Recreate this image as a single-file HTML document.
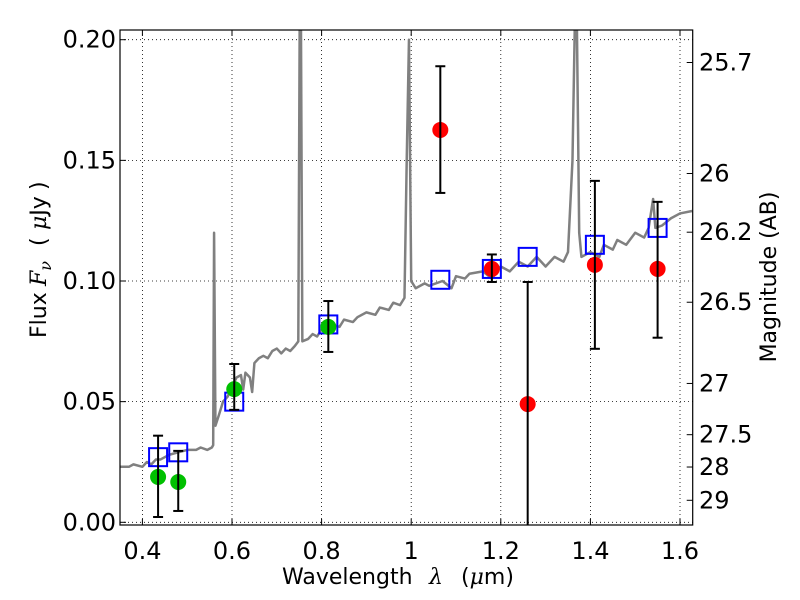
<!DOCTYPE html>
<html><head><meta charset="utf-8"><style>
html,body{margin:0;padding:0;background:#fff;overflow:hidden;width:800px;height:600px}
svg{display:block;font-family:"DejaVu Sans","Liberation Sans",sans-serif}
.tt{font-size:22px}
</style></head><body>
<svg id="chart" width="800" height="600" viewBox="0 0 800 600">
<g>
<text class="tt" x="282" y="584">Wavelength</text>
<text class="tt" x="429" y="584" font-family="DejaVu Serif, serif" font-style="italic">λ</text>
<text class="tt" x="461" y="584">(<tspan font-family="DejaVu Serif, serif" font-style="italic">μ</tspan>m)</text>
</g>
<g transform="translate(46,0) rotate(-90)">
<text class="tt" x="-338" y="0">Flux</text>
<text class="tt" x="-286" y="0" font-family="DejaVu Serif, serif" font-style="italic">F<tspan style="font-size:16px" dy="5">ν</tspan></text>
<text class="tt" x="-246" y="0">(</text>
<text class="tt" x="-230" y="0"><tspan font-family="DejaVu Serif, serif" font-style="italic">μ</tspan>Jy</text>
<text class="tt" x="-190" y="0">)</text>
</g>
<text transform="translate(776,277) rotate(-90)" style="font-size:22px" text-anchor="middle">Magnitude (AB)</text>
</svg>
<script>
const specLam=[0.35,0.37,0.38,0.40,0.41,0.42,0.43,0.44,0.46,0.48,0.50,0.52,0.53,0.545,0.555,0.558,0.56,0.563,0.57,0.58,0.59,0.60,0.61,0.62,0.625,0.63,0.64,0.645,0.65,0.66,0.67,0.68,0.69,0.70,0.71,0.72,0.73,0.74,0.748,0.751,0.754,0.757,0.77,0.78,0.79,0.80,0.82,0.84,0.85,0.87,0.88,0.90,0.92,0.93,0.95,0.96,0.975,0.985,0.99,0.995,1.0,1.01,1.03,1.04,1.07,1.09,1.10,1.12,1.13,1.16,1.18,1.2,1.22,1.24,1.26,1.28,1.30,1.32,1.34,1.35,1.36,1.365,1.37,1.375,1.38,1.40,1.42,1.43,1.45,1.46,1.48,1.50,1.52,1.53,1.54,1.545,1.56,1.58,1.60,1.627];
const specFlux=[0.023,0.023,0.024,0.023,0.025,0.024,0.026,0.026,0.028,0.029,0.030,0.030,0.031,0.030,0.031,0.032,0.12,0.04,0.044,0.050,0.052,0.056,0.060,0.061,0.055,0.062,0.060,0.054,0.066,0.068,0.069,0.068,0.071,0.072,0.070,0.072,0.071,0.073,0.075,0.21,0.21,0.075,0.076,0.078,0.077,0.080,0.082,0.081,0.084,0.083,0.085,0.087,0.086,0.089,0.088,0.091,0.090,0.093,0.15,0.20,0.10,0.097,0.099,0.098,0.100,0.097,0.102,0.101,0.103,0.104,0.101,0.106,0.104,0.108,0.106,0.110,0.106,0.110,0.108,0.112,0.15,0.21,0.21,0.12,0.110,0.112,0.110,0.115,0.113,0.117,0.115,0.120,0.118,0.122,0.134,0.122,0.123,0.126,0.128,0.129];
const modelLam=[0.435,0.48,0.605,0.815,1.065,1.18,1.26,1.41,1.55];
const modelFlux=[0.027,0.029,0.050,0.082,0.1005,0.105,0.110,0.115,0.122];
const greenLam=[0.435,0.48,0.605,0.815];
const greenFlux=[0.0188,0.0167,0.0552,0.081];
const greenHi=[0.0359,0.0296,0.0656,0.0917];
const greenLo=[0.0022,0.0047,0.0466,0.0706];
const redLam=[1.065,1.18,1.26,1.41,1.55];
const redFlux=[0.1626,0.105,0.049,0.1067,0.105];
const redHi=[0.189,0.111,0.0996,0.1415,0.1328];
const redLo=[0.1365,0.0996,-0.05,0.0719,0.0765];
const xTicks=[0.4,0.6,0.8,1.0,1.2,1.4,1.6];
const xTickLabels=["0.4","0.6","0.8","1","1.2","1.4","1.6"];
const yTicks=[0,0.05,0.10,0.15,0.20];
const yTickLabels=["0.00","0.05","0.10","0.15","0.20"];
const magTicks=[25.7,26,26.2,26.5,27,27.5,28,29];
const magTickLabels=["25.7","26","26.2","26.5","27","27.5","28","29"];

const L=120,R=692.7,T=30,B=525;
const X=v=>L+(v-0.35)*448;
const Y=v=>522.3-v*2413;
const NS="http://www.w3.org/2000/svg";
const svg=document.getElementById('chart');
function mk(tag,at,parent){const e=document.createElementNS(NS,tag);for(const k in at)e.setAttribute(k,at[k]);(parent||svg).appendChild(e);return e;}
const clampY=y=>Math.max(T,Math.min(B,y));

const defs=mk('defs',{});
const cp=mk('clipPath',{id:'clip'},defs);
mk('rect',{x:L,y:T,width:R-L,height:B-T},cp);

xTicks.forEach(v=>{const g=mk('line',{x1:X(v),x2:X(v),y1:T,y2:B,stroke:'#000','stroke-width':0.8,'stroke-dasharray':'1,3'});

});
yTicks.forEach(v=>{const g=mk('line',{x1:L,x2:R,y1:Y(v),y2:Y(v),stroke:'#000','stroke-width':0.8,'stroke-dasharray':'1,3'});

});

const sp=mk('polyline',{points:specLam.map((l,i)=>X(l)+','+clampY(Y(specFlux[i]))).join(' '),fill:'none',stroke:'#808080','stroke-width':2.5,'clip-path':'url(#clip)','stroke-linejoin':'round'});



modelLam.forEach((l,i)=>{const r=mk('rect',{x:X(l)-9,y:Y(modelFlux[i])-9,width:18,height:18,fill:'none',stroke:'#0000ff','stroke-width':2,'clip-path':'url(#clip)'});

});

function errbar(x,hi,lo,name){
  const g=mk('g',{});
  
  
  const yh=Y(hi),yl=Y(lo);
  mk('line',{x1:x,x2:x,y1:clampY(yh),y2:clampY(yl),stroke:'#000','stroke-width':2},g);
  if(yh>=T&&yh<=B) mk('line',{x1:x-5,x2:x+5,y1:yh,y2:yh,stroke:'#000','stroke-width':2},g);
  if(yl>=T&&yl<=B) mk('line',{x1:x-5,x2:x+5,y1:yl,y2:yl,stroke:'#000','stroke-width':2},g);
}
greenLam.forEach((l,i)=>{
  const c=mk('circle',{cx:X(l),cy:Y(greenFlux[i]),r:8,fill:'#00c000'});
  
  
  errbar(X(l),greenHi[i],greenLo[i],'green-error-bar');
});
redLam.forEach((l,i)=>{
  const c=mk('circle',{cx:X(l),cy:Y(redFlux[i]),r:8,fill:'#ff0000'});
  
  
  errbar(X(l),redHi[i],redLo[i],'red-error-bar');
});

const fr=mk('rect',{x:L,y:T,width:R-L,height:B-T,fill:'none',stroke:'#000','stroke-width':1.2});



xTicks.forEach((v,i)=>{
  mk('line',{x1:X(v),x2:X(v),y1:B,y2:B-6,stroke:'#000'});
  mk('line',{x1:X(v),x2:X(v),y1:T,y2:T+6,stroke:'#000'});
  const t=mk('text',{x:X(v),y:559,'font-size':24,'text-anchor':'middle'});
  t.textContent=xTickLabels[i];
  
  
});
yTicks.forEach((v,i)=>{
  mk('line',{x1:L,x2:L+6,y1:Y(v),y2:Y(v),stroke:'#000'});
  const t=mk('text',{x:116,y:Y(v)+8,'font-size':24,'text-anchor':'end'});
  t.textContent=yTickLabels[i];
  
  
});
magTicks.forEach((m,i)=>{
  const y=Y(Math.pow(10,(23.9-m)/2.5));
  mk('line',{x1:R,x2:R-6,y1:y,y2:y,stroke:'#000'});
  const t=mk('text',{x:699,y:y+8,'font-size':24});
  t.textContent=magTickLabels[i];
  
  
});
</script>
</body></html>
